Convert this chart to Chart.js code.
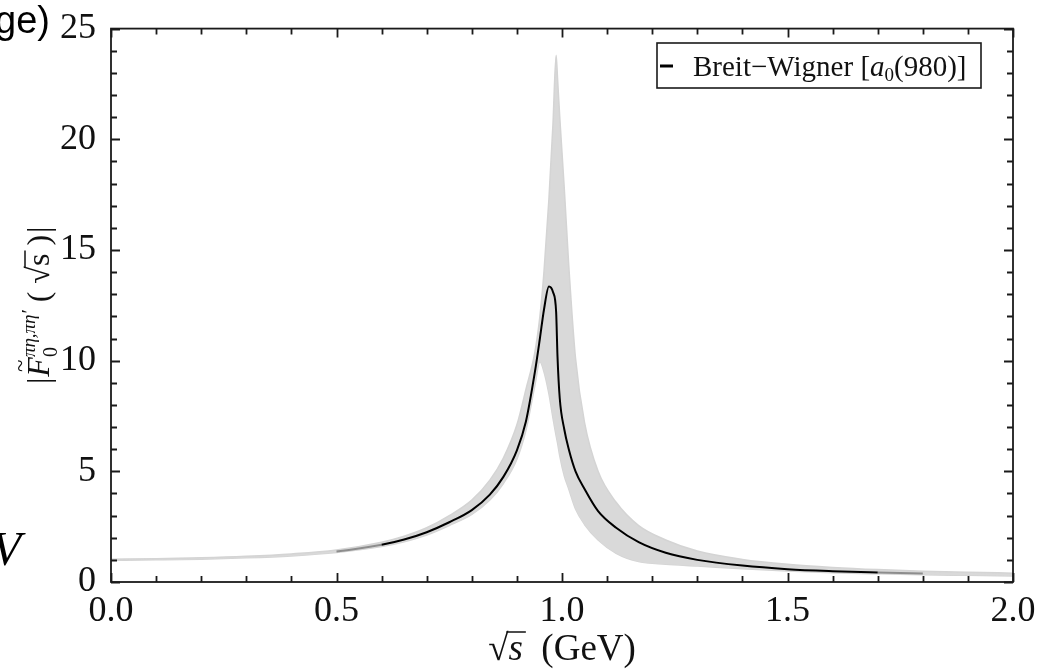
<!DOCTYPE html>
<html>
<head>
<meta charset="utf-8">
<script src="https://cdn.jsdelivr.net/npm/chart.js@4.4.1/dist/chart.umd.min.js"></script>
<style>
  body { margin: 0; background: #fff; }
  #wrap { width: 1037px; height: 670px; position: relative; }
</style>
</head>
<body>
<div id="wrap"><canvas id="formFactor"></canvas></div>
<script>
// sqrt(s) in GeV, and |F0|
const energy      = [0, 0.1, 0.2, 0.3, 0.4, 0.5, 0.6, 0.65, 0.7, 0.75, 0.8, 0.84, 0.87, 0.9, 0.92, 0.94, 0.951, 0.96, 0.971, 0.98, 0.987, 0.99, 0.995, 1.005, 1.015, 1.03, 1.05, 1.08, 1.12, 1.17, 1.23, 1.3, 1.4, 1.5, 1.6, 1.7, 1.8, 1.9, 2.0];
const breitWigner = [1.00, 1.02, 1.06, 1.12, 1.22, 1.38, 1.68, 1.92, 2.25, 2.70, 3.25, 3.95, 4.75, 5.95, 7.25, 9.5, 11.0, 12.3, 13.35, 13.1, 12.2, 10.2, 8.3, 6.9, 6.0, 5.0, 4.2, 3.2, 2.45, 1.8, 1.32, 1.0, 0.74, 0.58, 0.49, 0.43, 0.38, 0.35, 0.32];
const bandUpper   = [1.03, 1.05, 1.09, 1.16, 1.27, 1.45, 1.80, 2.07, 2.45, 3.00, 3.70, 4.60, 5.60, 7.10, 8.70, 10.4, 12.0, 14.0, 17.3, 20.7, 23.8, 22.8, 21.0, 17.8, 14.3, 10.1, 7.2, 5.0, 3.6, 2.55, 1.9, 1.4, 1.02, 0.8, 0.66, 0.56, 0.49, 0.44, 0.4];
const bandLower   = [0.98, 1.00, 1.03, 1.09, 1.18, 1.33, 1.60, 1.82, 2.12, 2.55, 3.05, 3.70, 4.45, 5.55, 6.85, 8.9, 9.95, 9.5, 8.5, 7.4, 6.6, 6.3, 5.7, 4.8, 4.2, 3.3, 2.6, 1.9, 1.3, 0.92, 0.8, 0.72, 0.6, 0.5, 0.42, 0.37, 0.33, 0.3, 0.27];

const xMajorTicks = [0, 0.5, 1.0, 1.5, 2.0];
const yMajorTicks = [0, 5, 10, 15, 20, 25];
const xMinorStep = 0.1;
const yMinorStep = 1;

const serif = '"Liberation Serif", "Times New Roman", serif';
const points = ys => energy.map((x, i) => ({ x: x, y: ys[i] }));

// draws a row of text pieces; keep = don't advance (stacked sub/sup)
function drawRich(ctx, parts, x, y) {
  parts.forEach(p => {
    ctx.font = p.f;
    ctx.fillText(p.t, x + (p.dx || 0), y + (p.dy || 0));
    if (p.over) {
      const w = ctx.measureText(p.t).width;
      ctx.beginPath();
      ctx.moveTo(x - 2, y - p.over);
      ctx.lineTo(x + w + 3, y - p.over);
      ctx.stroke();
    }
    if (!p.keep) x += ctx.measureText(p.t).width;
    x += p.gap || 0;
  });
  return x;
}
function richWidth(ctx, parts) {
  let w = 0;
  parts.forEach(p => {
    ctx.font = p.f;
    if (!p.keep) w += ctx.measureText(p.t).width;
    w += p.gap || 0;
  });
  return w;
}

const decorations = {
  id: 'decorations',
  afterDatasetsDraw(chart) {
    const { ctx, chartArea: a, scales: { x, y } } = chart;
    ctx.save();
    ctx.strokeStyle = '#1a1a1a';
    ctx.lineWidth = 1.8;
    ctx.strokeRect(a.left, a.top, a.right - a.left, a.bottom - a.top);

    // inward ticks on all four sides
    const isMajor = (list, v) => list.some(t => Math.abs(t - v) < 1e-6);
    ctx.beginPath();
    const nx = Math.round((x.max - x.min) / xMinorStep);
    for (let i = 0; i <= nx; i++) {
      const v = x.min + i * xMinorStep;
      const len = isMajor(xMajorTicks, v) ? 9 : 6;
      const px = Math.round(x.getPixelForValue(v)) + 0.5;
      ctx.moveTo(px, a.bottom); ctx.lineTo(px, a.bottom - len);
      ctx.moveTo(px, a.top); ctx.lineTo(px, a.top + len);
    }
    const ny = Math.round((y.max - y.min) / yMinorStep);
    for (let i = 0; i <= ny; i++) {
      const v = y.min + i * yMinorStep;
      const len = isMajor(yMajorTicks, v) ? 9 : 6;
      const py = Math.round(y.getPixelForValue(v)) + 0.5;
      ctx.moveTo(a.left, py); ctx.lineTo(a.left + len, py);
      ctx.moveTo(a.right, py); ctx.lineTo(a.right - len, py);
    }
    ctx.stroke();

    // legend box
    const curve = chart.data.datasets[0];
    ctx.lineWidth = 1.6;
    ctx.fillStyle = '#fff';
    ctx.fillRect(657, 43, 324, 45);
    ctx.strokeRect(657, 43, 324, 45);
    ctx.strokeStyle = curve.borderColor;
    ctx.lineWidth = 3;
    ctx.beginPath(); ctx.moveTo(660, 66); ctx.lineTo(673, 66); ctx.stroke();
    ctx.fillStyle = '#111';
    ctx.textBaseline = 'alphabetic';
    ctx.textAlign = 'left';
    drawRich(ctx, [
      { t: 'Breit\u2212Wigner [', f: '29px ' + serif },
      { t: 'a', f: 'italic 29px ' + serif },
      { t: '0', f: '19px ' + serif, dy: 5 },
      { t: '(980)]', f: '29px ' + serif }
    ], 693, 76);

    // x axis title
    ctx.strokeStyle = '#111';
    ctx.lineWidth = 1.5;
    const xParts = [
      { t: '\u221A', f: '37px ' + serif },
      { t: 's', f: 'italic 37px ' + serif, over: 28 },
      { t: '  (GeV)', f: '37px ' + serif }
    ];
    const xw = richWidth(ctx, xParts);
    drawRich(ctx, xParts, (a.left + a.right) / 2 - xw / 2, 660);

    // y axis title, rotated
    ctx.save();
    ctx.translate(49, (a.top + a.bottom) / 2);
    ctx.rotate(-Math.PI / 2);
    const yParts = [
      { t: '|', f: '32px ' + serif, gap: 1 },
      { t: 'F', f: 'italic 32px ' + serif },
      { t: '~', f: '23px ' + serif, dx: -15, dy: -21, keep: true },
      { t: '0', f: '20px ' + serif, dy: 8, keep: true },
      { t: '\u03C0\u03B7,\u03C0\u03B7\u2032', f: 'italic 19px ' + serif, dy: -14, gap: 8 },
      { t: '(', f: '32px ' + serif, gap: 8 },
      { t: '\u221A', f: '32px ' + serif },
      { t: 's', f: '32px ' + serif, over: 24, gap: 8 },
      { t: ')', f: '32px ' + serif, gap: 2 },
      { t: '|', f: '32px ' + serif }
    ];
    const yw = richWidth(ctx, yParts);
    drawRich(ctx, yParts, -yw / 2, 0);
    ctx.restore();

    // fragments of neighbouring text in the cropped source
    ctx.fillStyle = '#000';
    ctx.textAlign = 'right';
    ctx.font = '38px "Liberation Sans", Arial, sans-serif';
    ctx.fillText('ge)', 50, 33);
    ctx.font = 'italic 48px ' + serif;
    ctx.fillText('V', 21, 565);
    ctx.restore();
  }
};

// black line fades into the band at both ends, as in the source
const curveColor = c => {
  const x0 = c.p0.parsed.x;
  if (x0 < 0.45 || x0 >= 1.8) return 'rgba(0,0,0,0)';
  if (x0 < 0.6 || x0 >= 1.7) return 'rgba(0,0,0,0.35)';
  return '#000';
};

new Chart(document.getElementById('formFactor'), {
  type: 'line',
  data: {
    datasets: [
      {
        label: 'Breit\u2212Wigner [a\u2080(980)]',
        data: points(breitWigner),
        borderColor: '#000',
        borderWidth: 2,
        pointRadius: 0,
        cubicInterpolationMode: 'monotone',
        fill: false,
        order: 0,
        segment: { borderColor: curveColor }
      },
      {
        label: 'upper',
        data: points(bandUpper),
        borderColor: 'rgb(212,212,212)',
        backgroundColor: 'rgb(217,217,217)',
        borderWidth: 1.5,
        pointRadius: 0,
        cubicInterpolationMode: 'monotone',
        fill: '+1',
        order: 1
      },
      {
        label: 'lower',
        data: points(bandLower),
        borderColor: 'rgb(212,212,212)',
        borderWidth: 1.5,
        pointRadius: 0,
        cubicInterpolationMode: 'monotone',
        fill: false,
        order: 2
      }
    ]
  },
  options: {
    responsive: true,
    maintainAspectRatio: false,
    animation: false,
    layout: { padding: { top: 25, right: 24, left: 0, bottom: 0 } },
    plugins: {
      legend: { display: false },
      tooltip: { enabled: false }
    },
    scales: {
      x: {
        type: 'linear',
        min: 0,
        max: 2,
        grid: { display: false },
        border: { display: false },
        afterBuildTicks: s => { s.ticks = xMajorTicks.map(v => ({ value: v })); },
        afterFit: s => { s.height = 88; },
        ticks: {
          padding: 0,
          color: '#111',
          maxRotation: 0,
          font: { family: serif, size: 36 },
          callback: v => v.toFixed(1)
        }
      },
      y: {
        min: 0,
        max: 25,
        grid: { display: false },
        border: { display: false },
        afterBuildTicks: s => { s.ticks = yMajorTicks.map(v => ({ value: v })); },
        afterFit: s => { s.width = 111; },
        ticks: {
          padding: 7,
          color: '#111',
          font: { family: serif, size: 36 },
          callback: v => String(v)
        }
      }
    }
  },
  plugins: [decorations]
});
</script>
</body>
</html>
